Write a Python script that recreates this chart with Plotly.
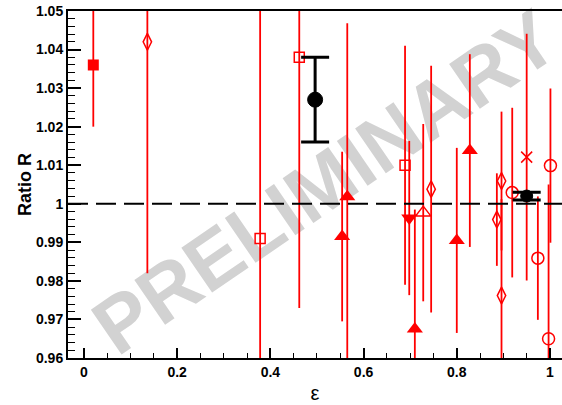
import plotly.graph_objects as go

# ---- data ----
fsq_x = [0.02]
fsq_y = [1.036]
fsq_e = [0.016]

odia_x = [0.136, 0.745, 0.886, 0.896, 0.896]
odia_y = [1.042, 1.0038, 0.9959, 1.0059, 0.9762]
odia_e = [0.060, 0.032, 0.012, 0.018, 0.025]

osq_x = [0.378, 0.462, 0.689]
osq_y = [0.991, 1.038, 1.010]
osq_e = [0.070, 0.065, 0.031]

ftri_x = [0.554, 0.565, 0.710, 0.800, 0.828]
ftri_y = [0.9915, 1.0018, 0.9675, 0.9905, 1.0138]
ftri_e = [0.022, 0.045, 0.031, 0.024, 0.025]

fdown_x = [0.698]
fdown_y = [0.9963]
fdown_e = [0.020]

otri_x = [0.728]
otri_y = [0.9977]
otri_e = [0.023]

ocir_x = [0.919, 0.974, 1.001, 0.997]
ocir_y = [1.0029, 0.9859, 1.0099, 0.965]
ocir_e = [0.022, 0.016, 0.020, 0.040]

cross_x = [0.950]
cross_y = [1.0121]
cross_e = [0.032]

black_x = [0.496, 0.950]
black_y = [1.027, 1.002]
black_e = [0.011, 0.001]

ytick_vals = [0.96, 0.97, 0.98, 0.99, 1.0, 1.01, 1.02, 1.03, 1.04, 1.05]
ytick_text = ["0.96", "0.97", "0.98", "0.99", "1", "1.01", "1.02", "1.03", "1.04", "1.05"]
xtick_vals = [0, 0.2, 0.4, 0.6, 0.8, 1.0]
xtick_text = ["0", "0.2", "0.4", "0.6", "0.8", "1"]

RED = "#ff0000"
FONT = "Liberation Sans, Arial, Helvetica, sans-serif"

fig = go.Figure()


def red_trace(x, y, e, symbol, size, open_=True):
    fig.add_trace(go.Scatter(
        x=x, y=y, mode="markers",
        marker=dict(symbol=symbol, size=size, color=RED, opacity=1,
                    line=dict(width=1.5 if open_ else 0, color=RED)),
        error_y=dict(type="data", array=e, visible=True, color=RED,
                     thickness=1.8, width=0),
        showlegend=False, hoverinfo="skip"))


red_trace(fsq_x, fsq_y, fsq_e, "square", 11, open_=False)
red_trace(odia_x, odia_y, odia_e, "diamond-tall-open", 12)
red_trace(osq_x, osq_y, osq_e, "square-open", 10)
red_trace(ftri_x, ftri_y, ftri_e, "triangle-up", 14, open_=False)
red_trace(fdown_x, fdown_y, fdown_e, "triangle-down", 14, open_=False)
red_trace(otri_x, otri_y, otri_e, "triangle-up-open", 13)
red_trace(ocir_x, ocir_y, ocir_e, "circle-open", 12)
red_trace(cross_x, cross_y, cross_e, "x-thin-open", 11)

fig.add_trace(go.Scatter(
    x=black_x, y=black_y, mode="markers", opacity=1,
    marker=dict(symbol="circle", size=[15, 12], color="#000000", opacity=1,
                line=dict(width=1, color="#000000")),
    error_y=dict(type="data", array=black_e, visible=True, color="#000000",
                 thickness=3, width=14),
    showlegend=False, hoverinfo="skip"))

# watermark (below the data)
fig.add_shape(type="line", xref="paper", yref="paper",
              x0=0.178, y0=0.1985, x1=0.846, y1=0.8505,
              line=dict(color="rgba(0,0,0,0)", width=0),
              layer="below",
              label=dict(text="PRELIMINARY", textposition="middle",
                         xanchor="center", yanchor="middle", padding=0,
                         font=dict(family=FONT, size=79, color="#d2d2d2", weight="bold")))

# dashed reference line at 1
fig.add_shape(type="line", xref="paper", yref="y", x0=0, x1=1, y0=1, y1=1,
              line=dict(color="black", width=2, dash="20px,8px"))

fig.update_layout(
    width=562, height=405,
    margin=dict(l=68, r=0, t=11, b=47),
    paper_bgcolor="white", plot_bgcolor="white",
    font=dict(family=FONT, color="black"),
    xaxis=dict(range=[-0.0343, 1.0258], showgrid=False, zeroline=False,
               automargin=False,
               showline=True, linecolor="black", linewidth=2, mirror=True,
               ticks="inside", ticklen=10, tickwidth=1.5, tickcolor="black",
               tickvals=xtick_vals, ticktext=xtick_text,
               tickfont=dict(size=14, family=FONT, weight="bold"),
               minor=dict(dtick=0.05, tick0=0, ticks="inside", ticklen=5,
                          tickwidth=1.2, tickcolor="black"),
               title=dict(text="ε", font=dict(size=20, family=FONT), standoff=7)),
    yaxis=dict(range=[0.96, 1.05], showgrid=False, zeroline=False,
               automargin=False,
               showline=True, linecolor="black", linewidth=2, mirror=False,
               ticks="inside", ticklen=13, tickwidth=1.5, tickcolor="black",
               tickvals=ytick_vals, ticktext=ytick_text,
               tickfont=dict(size=14, family=FONT, weight="bold"),
               minor=dict(dtick=0.002, tick0=0.96, ticks="inside", ticklen=7,
                          tickwidth=1.2, tickcolor="black"),
               title=dict(text="Ratio R", font=dict(size=18, family=FONT, weight="bold"),
                          standoff=0)),
)

fig.write_html("out.html", config={"displayModeBar": False},
               post_script="document.body.style.margin='0';document.body.style.overflow='hidden';")
